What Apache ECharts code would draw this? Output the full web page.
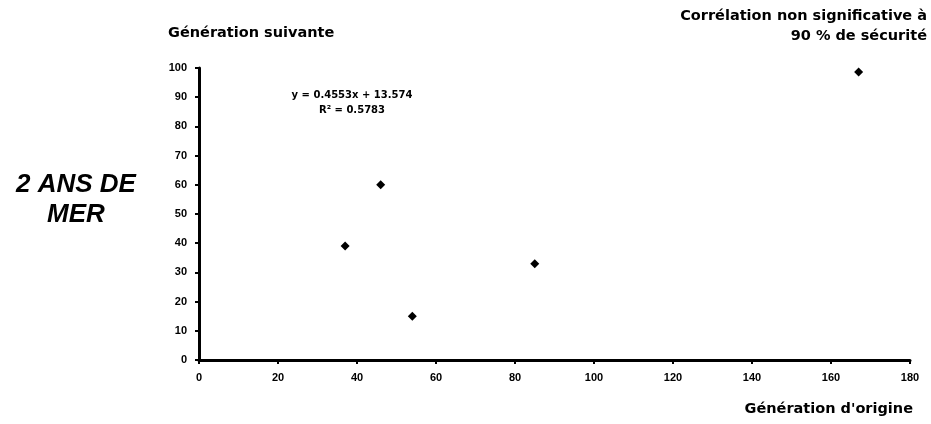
<!DOCTYPE html>
<html><head><meta charset="utf-8">
<script src="https://cdn.jsdelivr.net/npm/echarts@6/dist/echarts.min.js"></script>
<style>html,body{margin:0;padding:0;background:#fff}#c{width:931px;height:424px}</style>
</head><body><div id="c"></div>
<script>
const xValues = [37, 46, 54, 85, 167];
const yValues = [39, 60, 15, 33, 98.6];
const xTicks = [0, 20, 40, 60, 80, 100, 120, 140, 160, 180];
const yTicks = [0, 10, 20, 30, 40, 50, 60, 70, 80, 90, 100];
const yTitle = 'Génération suivante';
const xTitle = "Génération d'origine";
const noteLines = ['Corrélation non significative à', '90 % de sécurité'];
const sideLines = ['2 ANS DE', 'MER'];
const eqLines = ['y = 0.4553x + 13.574', 'R² = 0.5783'];

const chart = echarts.init(document.getElementById('c'));
const font = '"DejaVu Sans", sans-serif';
const tickFont = '"Liberation Sans Narrow", "Liberation Sans", Arial, sans-serif';
const sideFont = '"Liberation Sans", Arial, sans-serif';
const axisCommon = {
  axisLine: {show: true, onZero: false, lineStyle: {color: '#000', width: 3}},
  axisTick: {show: true, length: 4, lineStyle: {color: '#000', width: 2}},
  splitLine: {show: false},
  axisLabel: {color: '#000', fontFamily: tickFont, fontWeight: 'bold', fontSize: 11}
};
chart.setOption({
  animation: false,
  grid: {left: 199, right: 21, top: 68, bottom: 64},
  xAxis: Object.assign({type: 'value', min: xTicks[0], max: xTicks[xTicks.length-1], interval: 20}, axisCommon,
    {axisLabel: Object.assign({}, axisCommon.axisLabel, {margin: 12})}),
  yAxis: Object.assign({type: 'value', min: yTicks[0], max: yTicks[yTicks.length-1], interval: 10}, axisCommon,
    {axisLabel: Object.assign({}, axisCommon.axisLabel, {margin: 12})}),
  series: [{
    type: 'scatter', symbol: 'diamond', symbolSize: 9,
    itemStyle: {color: '#000', opacity: 1},
    data: xValues.map((x, i) => [x, yValues[i]])
  }],
  graphic: [
    {type: 'text', x: 168, y: 25.5, style: {text: yTitle, font: 'bold 14.5px ' + font, fill: '#000'}},
    {type: 'text', x: 927, y: 6, style: {text: noteLines.join('\n'), font: 'bold 14.5px ' + font, fill: '#000', align: 'right', lineHeight: 20}},
    {type: 'text', x: 913, y: 401.5, style: {text: xTitle, font: 'bold 14.5px ' + font, fill: '#000', align: 'right'}},
    {type: 'text', x: 76, y: 170, style: {text: sideLines.join('\n'), font: 'italic bold 26px ' + sideFont, fill: '#000', align: 'center', lineHeight: 30}},
    {type: 'text', x: 352, y: 88, style: {text: eqLines.join('\n'), font: 'bold 10px ' + font, fill: '#000', align: 'center', lineHeight: 15}}
  ]
});
</script></body></html>
